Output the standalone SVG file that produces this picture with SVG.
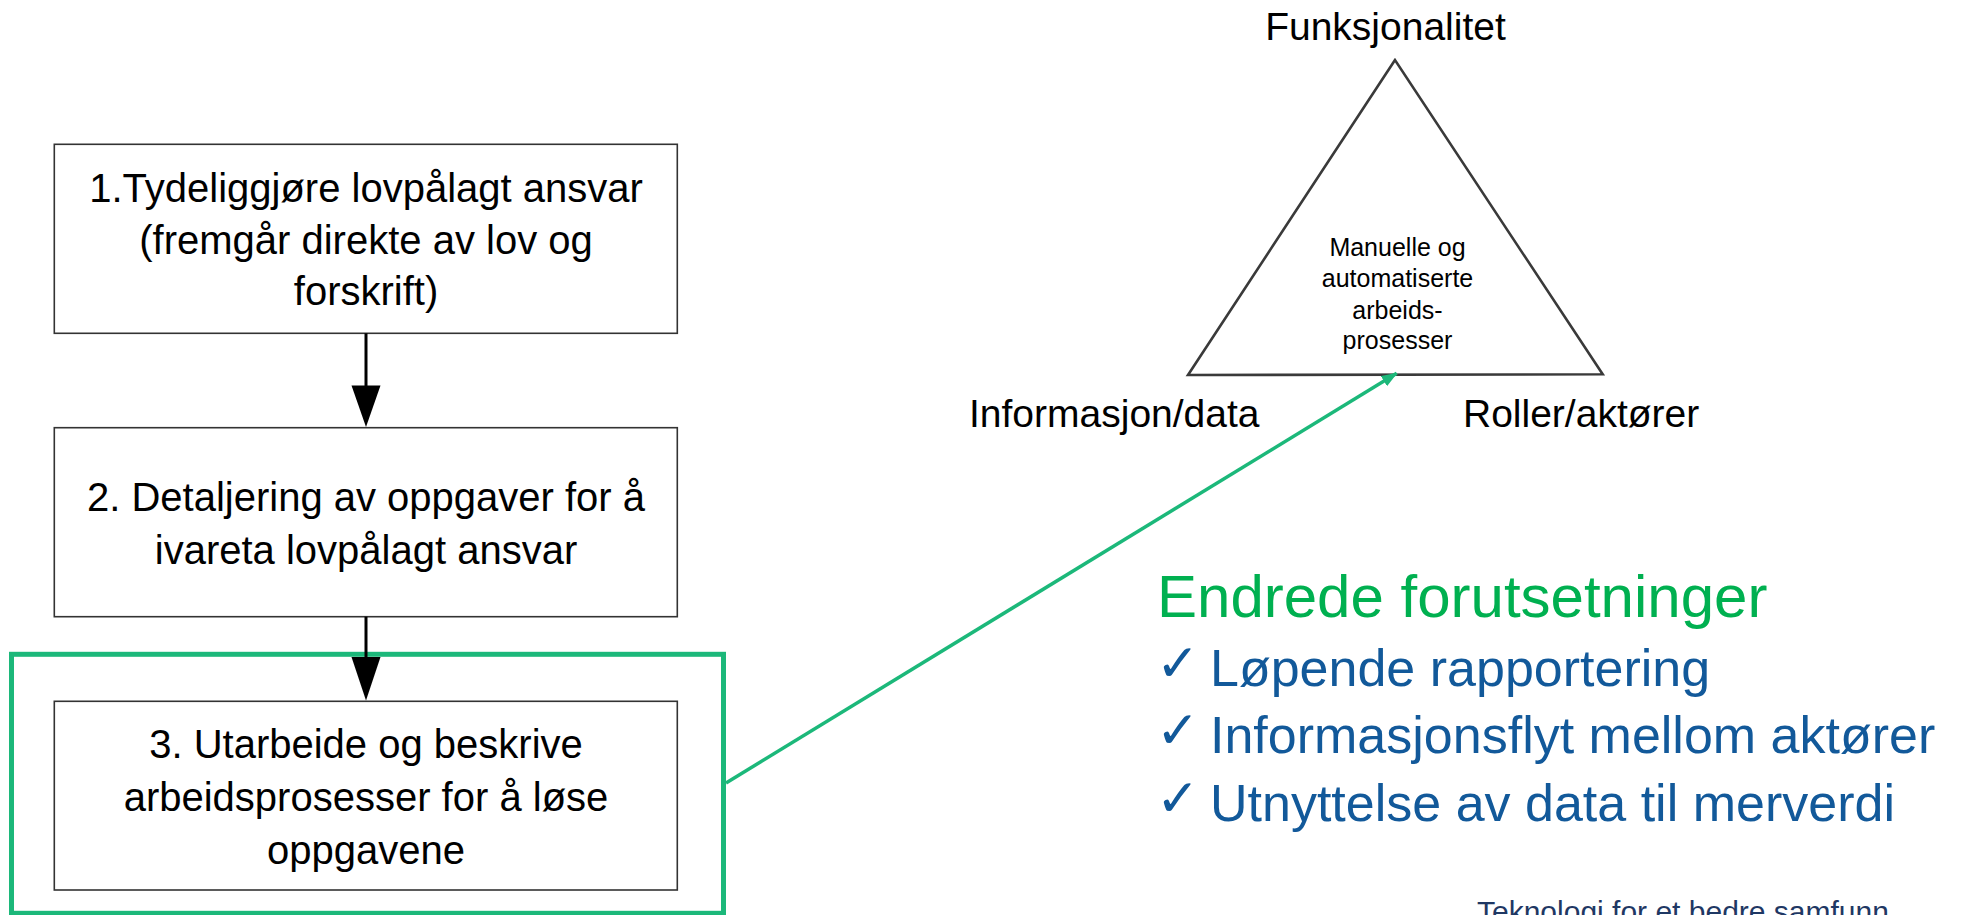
<svg xmlns="http://www.w3.org/2000/svg" width="1966" height="915" viewBox="0 0 1966 915">
  <style>
    text { font-family: "Liberation Sans", Arial, sans-serif; }
    .box { fill: #ffffff; stroke: #333333; stroke-width: 1.6; }
    .bt { font-size: 40px; fill: #000000; text-anchor: middle; }
    .lbl { font-size: 39px; fill: #000000; }
    .tri { fill: #ffffff; stroke: #3a3a3a; stroke-width: 2.6; stroke-linejoin: miter; }
    .inner { font-size: 25px; fill: #000000; text-anchor: middle; }
    .blue { font-size: 52px; fill: #12599a; }
    .chk { font-size: 52px; font-weight: bold; fill: #12599a; font-family: "DejaVu Sans", sans-serif; }
  </style>
  <defs>
    <marker id="greenHead" viewBox="0 0 16 12" refX="15" refY="6" markerWidth="16" markerHeight="12" markerUnits="userSpaceOnUse" orient="auto">
      <path d="M0,0 L16,6 L0,12 Z" fill="#1cb87a"/>
    </marker>
  </defs>
  <rect width="1966" height="915" fill="#ffffff"/>

  <g id="highlight">
    <rect x="11.5" y="654.3" width="712" height="259" fill="none" stroke="#1cb87a" stroke-width="5"/>
  </g>

  <g id="box1">
    <rect class="box" x="54.3" y="144.3" width="623" height="189"/>
    <text class="bt" x="366" y="202">1.Tydeliggjøre lovpålagt ansvar</text>
    <text class="bt" x="366" y="253.5">(fremgår direkte av lov og</text>
    <text class="bt" x="366" y="305">forskrift)</text>
  </g>

  <g id="box2">
    <rect class="box" x="54.3" y="427.7" width="623" height="189"/>
    <text class="bt" x="366" y="511">2. Detaljering av oppgaver for å</text>
    <text class="bt" x="366" y="563.5">ivareta lovpålagt ansvar</text>
  </g>

  <g id="box3">
    <rect class="box" x="54.3" y="701.3" width="623" height="188.7"/>
    <text class="bt" x="366" y="757.6">3. Utarbeide og beskrive</text>
    <text class="bt" x="366" y="811">arbeidsprosesser for å løse</text>
    <text class="bt" x="366" y="864">oppgavene</text>
  </g>

  <g id="triangle">
    <polygon class="tri" points="1395,60 1188,375 1602.7,374.3"/>
    <text class="inner" x="1397.5" y="256">Manuelle og</text>
    <text class="inner" x="1397.5" y="287">automatiserte</text>
    <text class="inner" x="1397.5" y="318.5">arbeids-</text>
    <text class="inner" x="1397.5" y="349">prosesser</text>
  </g>

  <g id="labels">
    <text class="lbl" x="1385.5" y="39.5" text-anchor="middle">Funksjonalitet</text>
    <text class="lbl" x="969" y="427">Informasjon/data</text>
    <text class="lbl" x="1463" y="427">Roller/aktører</text>
  </g>

  <g id="connectors">
    <line x1="366" y1="333.3" x2="366" y2="390" stroke="#000000" stroke-width="3"/>
    <polygon points="351.5,385.6 380.5,385.6 366,427" fill="#000000"/>
    <line x1="366" y1="616.7" x2="366" y2="660" stroke="#000000" stroke-width="3"/>
    <polygon points="351.5,657 380.5,657 366,700.5" fill="#000000"/>
    <line x1="726" y1="783" x2="1396.7" y2="373.3" stroke="#1cb87a" stroke-width="3.5" marker-end="url(#greenHead)"/>
  </g>

  <g id="conditions">
    <text x="1157" y="617" font-size="60" fill="#00b050">Endrede forutsetninger</text>
    <text class="chk" x="1156" y="681">✓</text>
    <text class="blue" x="1210" y="686">Løpende rapportering</text>
    <text class="chk" x="1156" y="748">✓</text>
    <text class="blue" x="1210" y="753">Informasjonsflyt mellom aktører</text>
    <text class="chk" x="1156" y="816">✓</text>
    <text class="blue" x="1210" y="821">Utnyttelse av data til merverdi</text>
  </g>

  <g id="footer">
    <text x="1477" y="922" font-size="30" fill="#1f3864">Teknologi for et bedre samfunn</text>
  </g>
</svg>
